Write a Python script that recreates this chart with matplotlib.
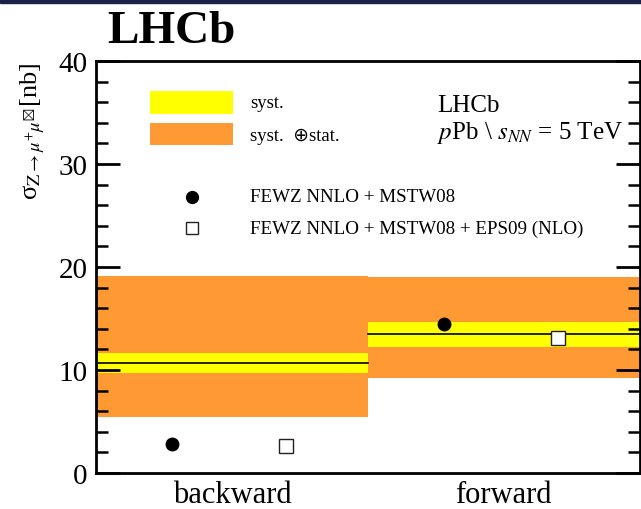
import matplotlib
matplotlib.use("Agg")
import matplotlib.pyplot as plt
from matplotlib.patches import Rectangle
from matplotlib.ticker import MultipleLocator

plt.rcParams['font.family'] = ['Liberation Serif', 'DejaVu Sans']
plt.rcParams['mathtext.fontset'] = 'stix'

# data
bins = ["backward", "forward"]
central = [10.7, 13.5]
syst_lo = [9.7, 12.2]
syst_hi = [11.65, 14.7]
tot_lo = [5.4, 9.2]
tot_hi = [19.1, 19.0]
fewz = [2.8, 14.5]
fewz_eps09 = [2.6, 13.1]

yellow = '#ffff00'
orange = '#ff9933'

fig = plt.figure(figsize=(6.41, 5.10), dpi=100)
ax = fig.add_axes([0.1498, 0.0706, 0.848, 0.8078])

# dark bar at the very top
fig.patches.append(Rectangle((0, 0.993), 1, 0.007, transform=fig.transFigure,
                             color='#1c2148', zorder=0))

for i in range(len(bins)):
    ax.fill_between([i, i + 1], tot_lo[i], tot_hi[i], color=orange, lw=0, zorder=1)
    ax.fill_between([i, i + 1], syst_lo[i], syst_hi[i], color=yellow, lw=0, zorder=1.1)
    ax.plot([i, i + 1], [central[i]] * 2, color='black', lw=1.2, zorder=1.5)
    ax.plot(i + 0.28, fewz[i], 'o', color='black', ms=9, zorder=3)
    ax.plot(i + 0.70, fewz_eps09[i], 's', mfc='white', mec='#222222', mew=1.0,
            ms=9.5, zorder=3)

ax.set_xlim(0, 2)
ax.set_ylim(0, 40)
ax.set_xticks([0.5, 1.5])
ax.set_xticklabels(bins, fontsize=22)
ax.tick_params(axis='x', length=0, pad=5)
ax.yaxis.set_major_locator(MultipleLocator(10))
ax.yaxis.set_minor_locator(MultipleLocator(2))
ax.tick_params(axis='y', which='major', direction='in', length=17, width=2,
               right=True, labelsize=21, pad=6)
ax.tick_params(axis='y', which='minor', direction='in', length=8.5, width=1.8,
               right=True)
for s in ax.spines.values():
    s.set_linewidth(2)

ax.set_ylabel(r"σ$_{\mathrm{Z}\rightarrow\mu^{+}\mu^{\boxtimes}}$[nb]",
              fontsize=19, loc='top', labelpad=8)

# legend drawn by hand
ax.add_patch(Rectangle((0.099, 0.871), 0.153, 0.056, transform=ax.transAxes,
                       color=yellow, lw=0))
ax.add_patch(Rectangle((0.099, 0.796), 0.153, 0.054, transform=ax.transAxes,
                       color=orange, lw=0))
ax.text(0.283, 0.899, "syst.", transform=ax.transAxes, fontsize=13.5, va='center')
ax.text(0.283, 0.820, "syst.  ⊕stat.", transform=ax.transAxes, fontsize=13.5,
        va='center')
ax.plot(0.177, 0.670, 'o', color='black', ms=8.5, transform=ax.transAxes)
ax.plot(0.177, 0.594, 's', mfc='white', mec='#222222', mew=1.0, ms=9,
        transform=ax.transAxes)
ax.text(0.283, 0.670, "FEWZ NNLO + MSTW08", transform=ax.transAxes,
        fontsize=13.7, va='center')
ax.text(0.283, 0.594, "FEWZ NNLO + MSTW08 + EPS09 (NLO)",
        transform=ax.transAxes, fontsize=13.7, va='center')

ax.text(0.628, 0.893, "LHCb", transform=ax.transAxes, fontsize=18, va='center')
ax.text(0.628, 0.828, r"$p$Pb \ $s_{NN}$ = 5 TeV", transform=ax.transAxes,
        fontsize=18, va='center')

fig.text(0.168, 0.937, "LHCb", fontsize=34, fontweight='bold', va='center')

fig.savefig("out.png", dpi=100)
